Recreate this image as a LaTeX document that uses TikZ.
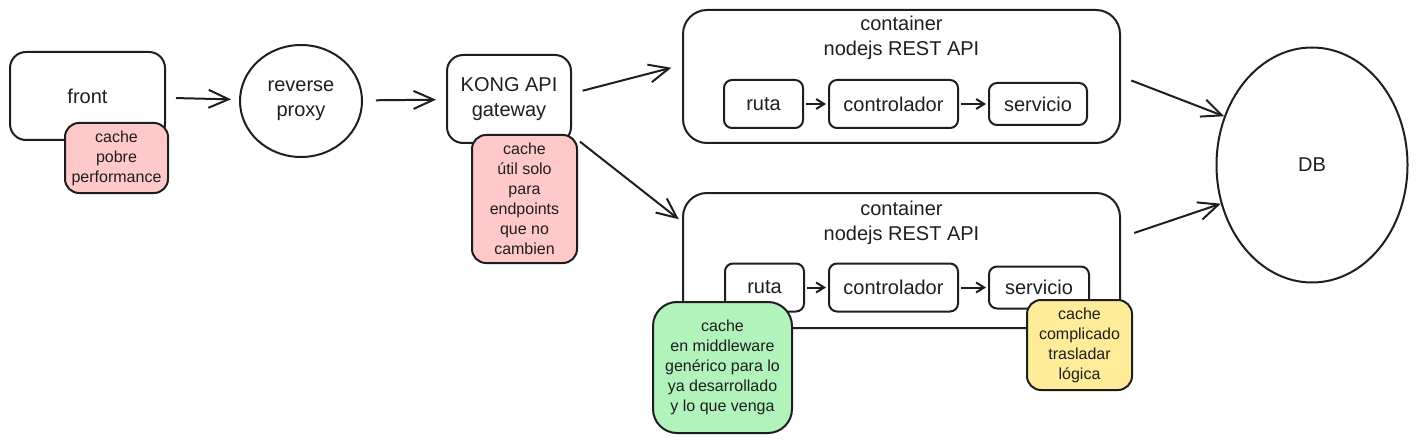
\documentclass[tikz,border=0pt]{standalone}
\usepackage{fontspec}
\setmainfont{Liberation Sans}
\usetikzlibrary{calc, positioning}
\usetikzlibrary{arrows.meta}
\usetikzlibrary{shapes.geometric}
\definecolor{ink}{HTML}{1E1E1E}
\definecolor{notered}{HTML}{FFC9C9}
\definecolor{notegreen}{HTML}{B2F2BB}
\definecolor{noteyellow}{HTML}{FFEC99}
\newcommand{\bigfont}{\fontsize{10}{12.5}\selectfont}
\newcommand{\notefont}{\fontsize{8}{10}\selectfont}

\begin{document}
\begin{tikzpicture}[x=0.5pt, y=-0.5pt, line width=1pt, color=ink,
  block/.style={draw, rounded corners=8pt, align=center, font=\bigfont, inner sep=0pt},
  container/.style={draw, rounded corners=12pt, minimum width=218.5pt, minimum height=66.5pt},
  title/.style={align=center, font=\bigfont, inner sep=0pt},
  inbox/.style={draw, rounded corners=4pt, minimum height=24pt, font=\bigfont, inner sep=0pt},
  note/.style={draw, rounded corners=7pt, align=center, font=\notefont, inner sep=0pt},
  arr/.style={-{Straight Barb[length=10pt,width=9pt]}},
  smallarr/.style={-{Straight Barb[length=4pt,width=5pt]}}]
\useasboundingbox (0,0) rectangle (1419,444);
% left chain
\node[block, minimum width=77.5pt, minimum height=44pt] (front) at (87.5,96) {front};
\node[block, ellipse, minimum width=61pt, minimum height=56pt] (proxy) at (301,101) {reverse\\proxy};
\node[block, minimum width=62pt, minimum height=44pt] (kong) at (509,99) {KONG API\\gateway};
% containers
\node[container] (apiA) at (901.5,76.5) {};
\node[title] (titleA) at (901.5,37.5) {container\\nodejs REST API};
\node[inbox, minimum width=39.5pt] (rutaA) at (763.5,104) {ruta};
\node[inbox, minimum width=64.5pt, right=12pt of rutaA] (ctrlA) {controlador};
\node[inbox, minimum width=49pt, minimum height=21pt, right=14.5pt of ctrlA] (servA) {servicio};
\node[container, minimum height=67.5pt] (apiB) at (901.5,260.5) {};
\node[title] (titleB) at (901.5,223) {container\\nodejs REST API};
\node[inbox, minimum width=39.5pt] (rutaB) at (764.5,287.5) {ruta};
\node[inbox, minimum width=64.5pt, right=11.5pt of rutaB] (ctrlB) {controlador};
\node[inbox, minimum width=50pt, minimum height=21pt, right=14.5pt of ctrlB] (servB) {servicio};
% database
\node[ellipse, draw, minimum width=95.5pt, minimum height=117.5pt, font=\bigfont] (db) at (1312,165) {DB};
% cache notes
\node[note, fill=notered, minimum width=51.5pt, minimum height=35pt] (cacheFront) at (116.5,158) {cache\\pobre\\performance};
\node[note, fill=notered, minimum width=52.5pt, minimum height=64pt] (cacheKong) at (524.5,199) {cache\\útil solo\\para\\endpoints\\que no\\cambien};
\node[note, fill=notegreen, rounded corners=12pt, minimum width=69.5pt, minimum height=65.5pt] (cacheMid) at (722.5,367.5) {cache\\en middleware\\genérico para lo\\ya desarrollado\\y lo que venga};
\node[note, fill=noteyellow, minimum width=52.5pt, minimum height=45pt] (cacheServ) at (1079.5,345) {cache\\complicado\\trasladar\\lógica};
% arrows
\draw[arr, shorten <=5pt, shorten >=4pt] (front) -- (proxy);
\draw[arr, shorten <=6.5pt, shorten >=5pt] (proxy) -- (kong);
\draw[arr, shorten <=5.5pt, shorten >=5.5pt] (kong.5) -- (apiA.177);
\draw[arr, shorten <=5pt, shorten >=2pt] (kong.-30) -- (apiB.170);
\draw[arr, shorten <=5.5pt] (apiA.east) -- (db.151);
\draw[arr, shorten <=7pt] (apiB.6) -- (db.203);
\draw[smallarr, shorten <=1pt, shorten >=1pt] (rutaA) -- (ctrlA);
\draw[smallarr, shorten <=1pt, shorten >=1pt] (ctrlA) -- (servA);
\draw[smallarr, shorten <=1pt, shorten >=1pt] (rutaB) -- (ctrlB);
\draw[smallarr, shorten <=1pt, shorten >=1pt] (ctrlB) -- (servB);
\end{tikzpicture}
\end{document}
